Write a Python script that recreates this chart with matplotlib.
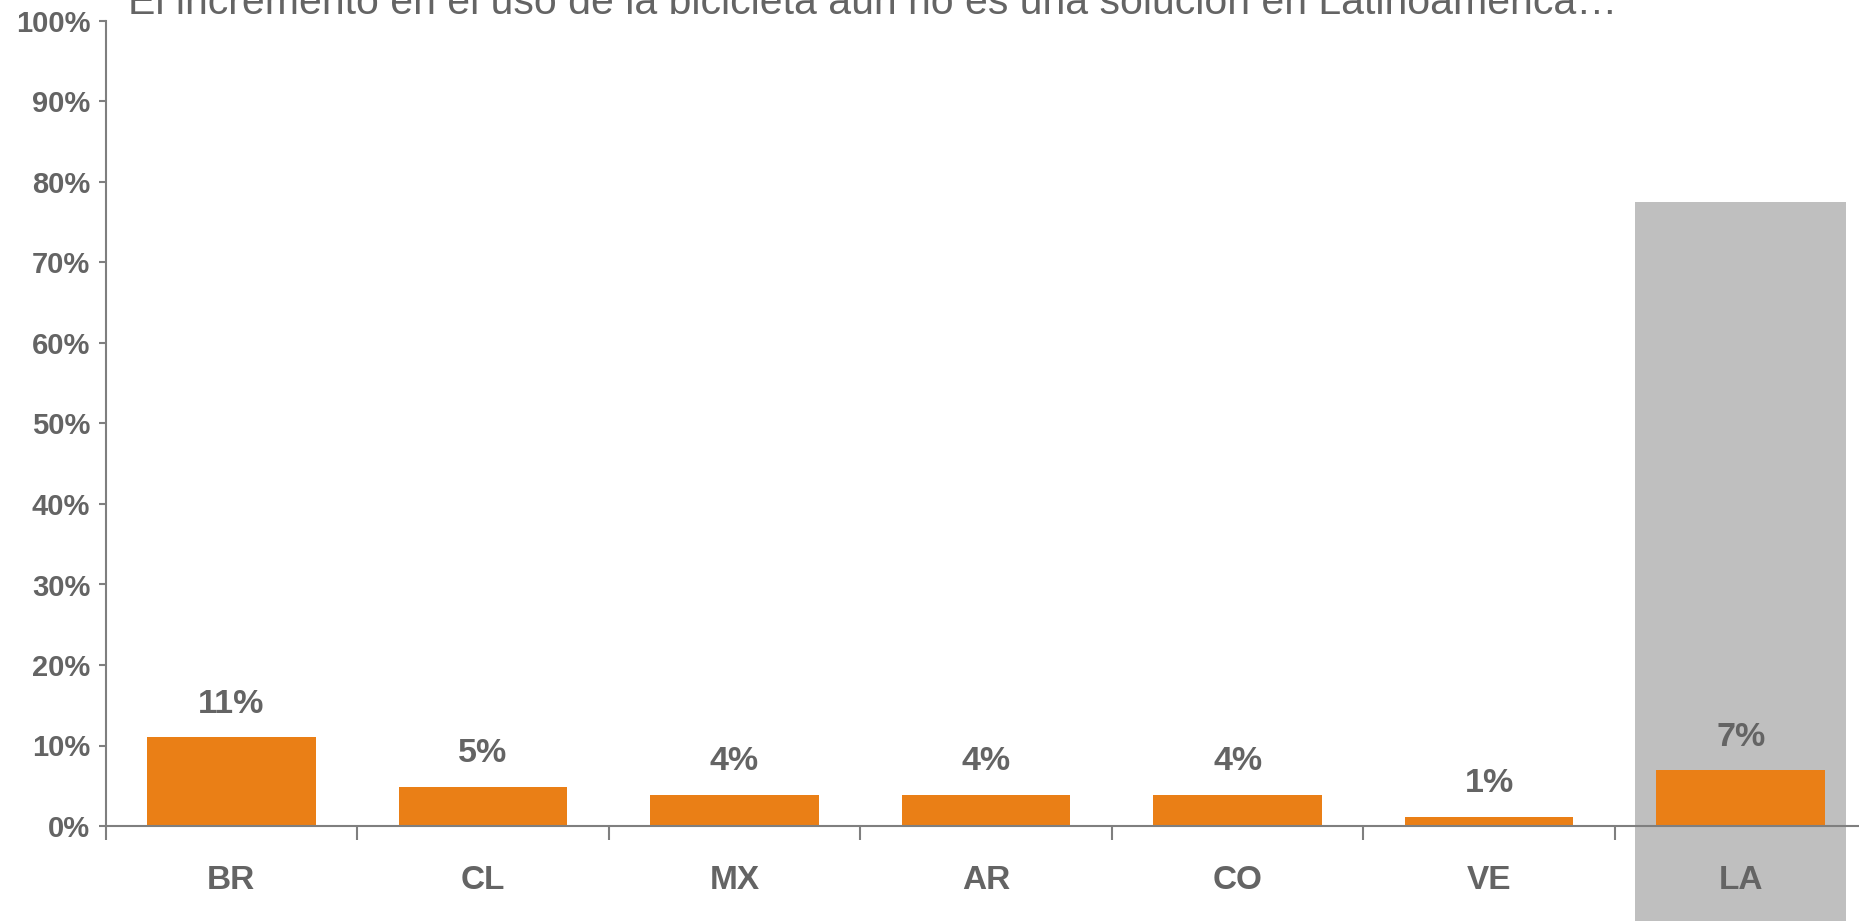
import matplotlib
matplotlib.use("Agg")
import matplotlib.pyplot as plt
from matplotlib.patches import Rectangle
from matplotlib.ticker import FixedLocator

plt.rcParams["font.family"] = ["Liberation Sans", "DejaVu Sans"]

title = "El incremento en el uso de la bicicleta aún no es una solución en Latinoamérica…"
countries = ["BR", "CL", "MX", "AR", "CO", "VE", "LA"]
values = [11.0, 4.9, 3.9, 3.9, 3.9, 1.1, 6.9]
labels = ["11%", "5%", "4%", "4%", "4%", "1%", "7%"]
band_top = 77.5  # grey highlight behind the regional total
yticks = list(range(0, 101, 10))

orange = "#EA7F16"
grey_band = "#BFBFBF"
text_grey = "#646464"
axis_grey = "#7F7F7F"

fig = plt.figure(figsize=(18.59, 9.21), dpi=100)
ax = fig.add_axes([105.5 / 1859, 1 - 826 / 921, 1 - 105.5 / 1859, (826 - 21) / 921])

x = list(range(len(countries)))

# grey band behind LA, running past the axis down to the figure edge
ax.add_patch(Rectangle((x[-1] - 0.42, -30), 0.84, band_top + 30,
                       facecolor=grey_band, edgecolor="none", zorder=0, clip_on=False))

ax.bar(x, values, width=0.67, color=orange, zorder=2)

for xi, v, lab in zip(x, values, labels):
    ax.text(xi, v + 2.2, lab, ha="center", va="bottom", fontsize=24.5,
            fontweight="bold", color=text_grey)

ax.set_xlim(-0.5, 6.47)
ax.set_ylim(0, 100)

for side in ["top", "right"]:
    ax.spines[side].set_visible(False)
for side in ["left", "bottom"]:
    ax.spines[side].set_color(axis_grey)
    ax.spines[side].set_linewidth(1.5)
    ax.spines[side].set_zorder(3)

ax.set_yticks(yticks)
ax.set_yticklabels([f"{t}%" for t in yticks])
ax.tick_params(axis="y", length=5, width=1.5, color=axis_grey, pad=6,
               labelsize=21, labelcolor=text_grey)
for t in ax.get_yticklabels():
    t.set_fontweight("bold")

# category boundaries get the tick marks, centers get the labels
ax.xaxis.set_major_locator(FixedLocator([i - 0.5 for i in x]))
ax.xaxis.set_major_formatter(plt.NullFormatter())
ax.tick_params(axis="x", which="major", length=10, width=1.5, color=axis_grey, direction="out")
ax.xaxis.set_minor_locator(FixedLocator(x))
ax.set_xticklabels(countries, minor=True)
ax.tick_params(axis="x", which="minor", length=0, pad=28, labelsize=24, labelcolor=text_grey)
for t in ax.get_xticklabels(minor=True):
    t.set_fontweight("bold")

fig.text(128 / 1859, 1 - 14 / 921, title, ha="left", va="baseline",
         fontsize=29.5, color=text_grey)

fig.savefig("out.png", dpi=100)
